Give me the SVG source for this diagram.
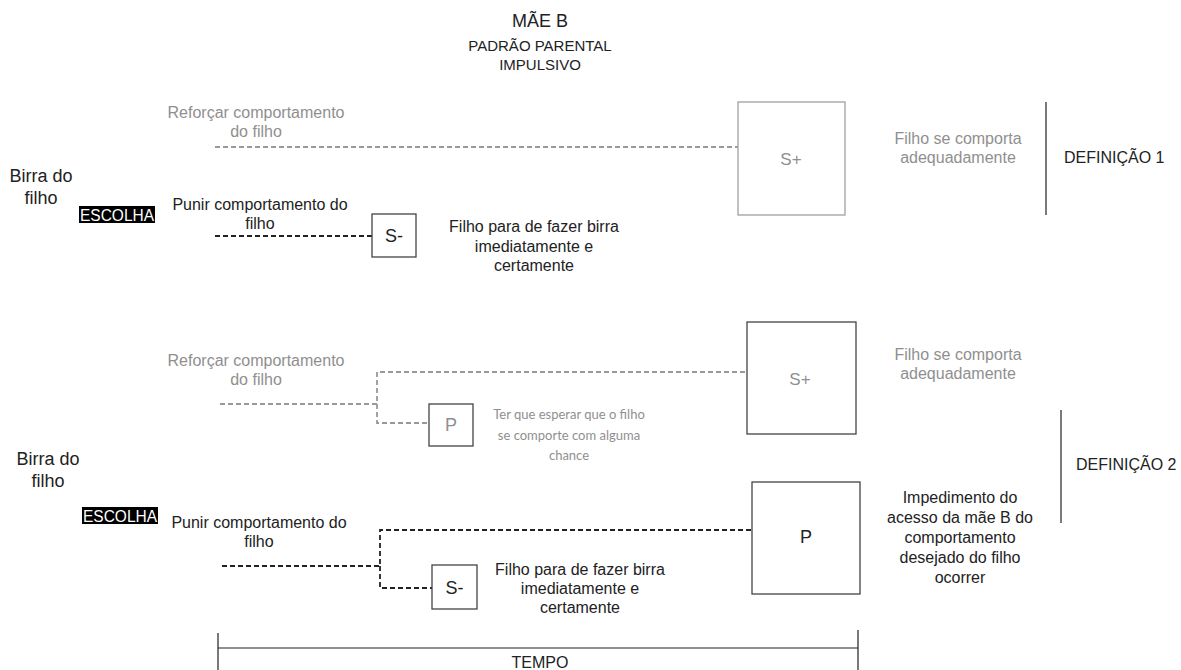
<svg xmlns="http://www.w3.org/2000/svg" width="1181" height="670" viewBox="0 0 1181 670">
<style>
text{font-family:"Liberation Sans",Arial,sans-serif;fill:#222;text-anchor:middle;font-size:16px}
.g{fill:#8f8f8f}
.big{font-size:18px}
.cal{font-family:Lato,"Open Sans",sans-serif;font-size:13px;fill:#8f8f8f}
.box{fill:#fff;stroke:#444;stroke-width:1.3}
.gbox{fill:#fff;stroke:#a0a0a0;stroke-width:1.3}
.dk{fill:none;stroke:#222;stroke-width:1.8;stroke-dasharray:5 3}
.dg{fill:none;stroke:#999;stroke-width:1.8;stroke-dasharray:5 3}
.sol{fill:none;stroke:#222;stroke-width:1.2}
.esc{fill:#000}
.esct{fill:#fff;font-size:16px}
.def{text-anchor:start}
</style>
<rect width="1181" height="670" fill="#fff"/>
<g id="title">
<text x="540" y="27" style="font-size:18px">MÃE B</text>
<text x="540" y="51" style="font-size:15px">PADRÃO PARENTAL</text>
<text x="540" y="70" style="font-size:15px">IMPULSIVO</text>
</g>
<g id="connectors">
<path class="dg" d="M215 147H738"/>
<path class="dk" d="M215 236H372"/>
<path class="dg" d="M220 404H377V372H747M377 404V423H429"/>
<path class="dk" d="M222 566H380V530H752M380 566V588H432"/>
</g>
<g id="birra1">
<text class="big" x="41" y="182">Birra do</text>
<text class="big" x="41" y="204">filho</text>
</g>
<g id="escolha1"><rect class="esc" x="79" y="206" width="76" height="17"/><text class="esct" x="117" y="220.5" textLength="74" lengthAdjust="spacingAndGlyphs">ESCOLHA</text></g>
<g id="reforcar1"><text class="g" x="256" y="118">Reforçar comportamento</text><text class="g" x="256" y="137">do filho</text></g>
<g id="punir1"><text x="260" y="210">Punir comportamento do</text><text x="260" y="229">filho</text></g>
<g id="splus1"><rect class="gbox" x="738" y="102" width="107" height="113"/><text class="g" x="791" y="165" style="font-size:17px">S+</text></g>
<g id="sminus1"><rect class="box" x="372" y="214" width="44" height="43"/><text x="394" y="242" style="font-size:18px">S-</text></g>
<g id="resultado1"><text class="g" x="958" y="144">Filho se comporta</text><text class="g" x="958" y="163">adequadamente</text></g>
<g id="resultado2"><text x="534" y="232">Filho para de fazer birra</text><text x="534" y="252">imediatamente e</text><text x="534" y="271">certamente</text></g>
<g id="def1"><path class="sol" d="M1046 102V215"/><text class="def" x="1064" y="163">DEFINIÇÃO 1</text></g>

<g id="birra2">
<text class="big" x="48" y="465">Birra do</text>
<text class="big" x="48" y="487">filho</text>
</g>
<g id="escolha2"><rect class="esc" x="82" y="507" width="76" height="17"/><text class="esct" x="120" y="521.5" textLength="74" lengthAdjust="spacingAndGlyphs">ESCOLHA</text></g>
<g id="reforcar2"><text class="g" x="256" y="366">Reforçar comportamento</text><text class="g" x="256" y="385">do filho</text></g>
<g id="punir2"><text x="259" y="528">Punir comportamento do</text><text x="259" y="547">filho</text></g>
<g id="splus2"><rect class="box" x="747" y="322" width="109" height="112"/><text class="g" x="800" y="385" style="font-size:17px">S+</text></g>
<g id="p1"><rect class="box" x="429" y="404" width="44" height="42"/><text class="g" x="451" y="431" style="font-size:18px">P</text></g>
<g id="esperar"><text class="cal" x="569" y="419">Ter que esperar que o filho</text><text class="cal" x="569" y="440">se comporte com alguma</text><text class="cal" x="569" y="460">chance</text></g>
<g id="pbig"><rect class="box" x="752" y="482" width="108" height="112"/><text x="806" y="543" style="font-size:18px">P</text></g>
<g id="sminus2"><rect class="box" x="432" y="565" width="45" height="44"/><text x="454.5" y="594" style="font-size:18px">S-</text></g>
<g id="resultado3"><text class="g" x="958" y="360">Filho se comporta</text><text class="g" x="958" y="379">adequadamente</text></g>
<g id="resultado4"><text x="580" y="575">Filho para de fazer birra</text><text x="580" y="594">imediatamente e</text><text x="580" y="613">certamente</text></g>
<g id="impedimento"><text x="960" y="503">Impedimento do</text><text x="960" y="523">acesso da mãe B do</text><text x="960" y="543">comportamento</text><text x="960" y="563">desejado do filho</text><text x="960" y="583">ocorrer</text></g>
<g id="def2"><path class="sol" d="M1061 410V523"/><text class="def" x="1076" y="470">DEFINIÇÃO 2</text></g>
<g id="tempo"><path class="sol" d="M218 633V670M858 630V670M218 648H858"/><text x="540" y="668">TEMPO</text></g>
</svg>
